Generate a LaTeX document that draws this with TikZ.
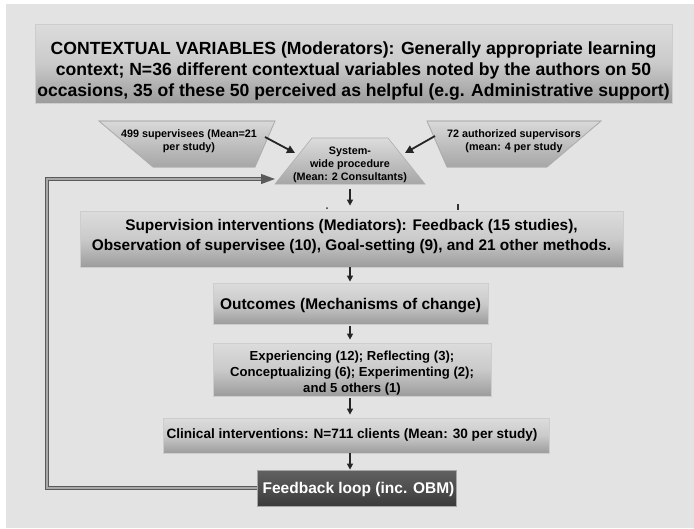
\documentclass[tikz,border=0pt]{standalone}
\usepackage{fontspec}
\setmainfont{Liberation Sans}
\usetikzlibrary{arrows.meta,calc}
\definecolor{bgc}{HTML}{E3E3E3}
\definecolor{boxline}{HTML}{CDCDCD}
\definecolor{boxtop}{HTML}{DCDCDC}
\definecolor{boxmid}{HTML}{CACACA}
\definecolor{boxbot}{HTML}{9C9C9C}
\definecolor{trtop}{HTML}{D9D9D9}
\definecolor{trbot}{HTML}{A6A6A6}
\definecolor{fbtop}{HTML}{616161}
\definecolor{fbbot}{HTML}{3B3B3B}
\definecolor{dblout}{HTML}{5A5A5A}
\definecolor{dblin}{HTML}{A8A8A8}
\tikzset{
  box/.style={draw=boxline, line width=0.8pt, top color=boxtop, bottom color=boxbot, middle color=boxmid, inner sep=0pt},
  fbbox/.style={draw=gray!70, line width=0.8pt, top color=fbtop, bottom color=fbbot, inner sep=0pt},
  trap/.style={draw=boxline!85!black, line width=0.6pt, top color=trtop, bottom color=trbot},
  txt/.style={align=center, inner sep=0pt, font=\bfseries},
  varr/.style={draw=black!85, line width=1.4pt, -{Triangle[length=6pt,width=6pt]}},
  darr/.style={draw=black!85, line width=1.8pt, -{Triangle[length=8pt,width=8pt]}},
}
\begin{document}
\begin{tikzpicture}[x=1pt,y=-1pt]
\useasboundingbox (0,0) rectangle (694,528);
\fill[white] (0,0) rectangle (694,528);
\fill[bgc] (6,4) rectangle (694,528);

% top box
\node[box, minimum width=637pt, minimum height=79pt] (ctx) at (353.5,63.5) {};
\node[txt, font=\fontsize{17.6}{20.8}\selectfont\bfseries] (ctxt) at (353.5,71)
 {CONTEXTUAL VARIABLES (Moderators): Generally appropriate learning\\
  context; N=36 different contextual variables noted by the authors on 50\\
  occasions, 35 of these 50 perceived as helpful (e.g. Administrative support)};

% trapezoids
\shade[trap] (99,121) -- (275,121) -- (255,167) -- (153,167) -- cycle;
\draw[boxline!85!black, line width=0.6pt] (99,121) -- (275,121) -- (255,167) -- (153,167) -- cycle;
\coordinate (lt) at (187,144);
\node[txt, font=\fontsize{10.8}{13.5}\selectfont\bfseries] (ltt) at (189,141)
 {499 supervisees (Mean=21\\per study)};

\shade[trap] (427,121) -- (601,121) -- (547,167) -- (447,167) -- cycle;
\draw[boxline!85!black, line width=0.6pt] (427,121) -- (601,121) -- (547,167) -- (447,167) -- cycle;
\coordinate (rt) at (514,144);
\node[txt, font=\fontsize{10.8}{13.5}\selectfont\bfseries] (rtt) at (514,141)
 {72 authorized supervisors\\(mean: 4 per study};

\shade[top color=boxtop, bottom color=trbot] (312,138) -- (388,138) -- (425,184) -- (275,184) -- cycle;
\draw[boxline!85!black, line width=0.6pt] (312,138) -- (388,138) -- (425,184) -- (275,184) -- cycle;
\coordinate (ct) at (350,184);
\node[txt, font=\fontsize{10.8}{13}\selectfont\bfseries] (ctt) at (350,165)
 {System-\\wide procedure\\(Mean: 2 Consultants)};

% diagonal arrows
\coordinate (a1s) at ($(lt)+(78,-7)$);
\coordinate (a1e) at ($(ct)+(-55,-31)$);
\draw[darr] (a1s) -- (a1e);
\coordinate (a2s) at ($(rt)+(-79,-8)$);
\coordinate (a2e) at ($(ct)+(55,-31)$);
\draw[darr] (a2s) -- (a2e);

% supervision box
\node[box, minimum width=543pt, minimum height=56pt] (sup) at (351.5,239) {};
\node[txt, font=\fontsize{15.4}{19.5}\selectfont\bfseries] (supt) at (351.5,236.5)
 {Supervision interventions (Mediators): Feedback (15 studies),\\
  Observation of supervisee (10), Goal-setting (9), and 21 other methods.};

% stray marks
\fill[black!80] (327,208) circle (1pt);
\draw[black!80, line width=1.4pt] (458,204) -- (458,210);

% outcomes
\node[box, minimum width=275pt, minimum height=41pt] (out) at (350.5,303.5) {};
\node[txt, font=\fontsize{15.5}{18}\selectfont\bfseries] (outt) at (350.5,305.5)
 {Outcomes (Mechanisms of change)};

% experiencing
\node[box, minimum width=278pt, minimum height=53pt] (exp) at (352,369.5) {};
\node[txt, font=\fontsize{13.1}{16}\selectfont\bfseries] (expt) at (352,373)
 {Experiencing (12); Reflecting (3);\\
  Conceptualizing (6); Experimenting (2);\\
  and 5 others (1)};

% clinical
\node[box, minimum width=386pt, minimum height=35pt] (cli) at (356,435.5) {};
\node[txt, font=\fontsize{13.6}{16}\selectfont\bfseries] (clit) at (352,434.5)
 {Clinical interventions: N=711 clients (Mean: 30 per study)};

% feedback
\node[fbbox, minimum width=199pt, minimum height=36pt] (fb) at (356.5,488) {};
\node[txt, text=white, font=\fontsize{15.5}{18}\selectfont\bfseries] (fbt) at (358.5,489.5)
 {Feedback loop (inc. OBM)};

% vertical arrows
\draw[varr, shorten <=5pt, shorten >=5pt] (ct) -- (ct |- sup.north);
\draw[varr, shorten >=1pt] (ct |- sup.south) -- (ct |- out.north);
\draw[varr, shorten <=1.5pt, shorten >=3pt] (ct |- out.south) -- (ct |- exp.north);
\draw[varr, shorten <=2pt, shorten >=3pt] (ct |- exp.south) -- (ct |- cli.north);
\draw[varr, shorten >=0pt] (ct |- cli.south) -- (ct |- fb.north);

% feedback loop (double line)
\coordinate (loopTop) at (47,179);
\coordinate (loopEnd) at (276,179);
\draw[dblout, line width=3.6pt, line join=miter, -{Triangle[length=15pt,width=9pt]}] (fb.west) -| (loopTop) -- (loopEnd);
\draw[dblin, line width=1.3pt, line join=miter, shorten >=15pt] (fb.west) -| (loopTop) -- (loopEnd);
\end{tikzpicture}
\end{document}
